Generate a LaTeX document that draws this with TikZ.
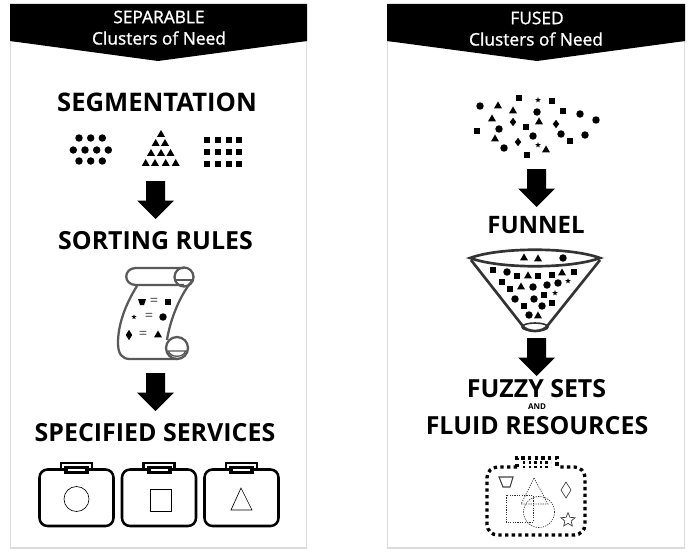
\documentclass[tikz,border=0pt]{standalone}
\usepackage{fontspec}
\setmainfont{Open Sans}
\newfontfamily\bannerfont[FakeBold=1.2]{Open Sans}
\usetikzlibrary{shapes.geometric}
\tikzset{mydot/.style={fill,circle,minimum size=5.6pt,inner sep=0pt},
mytri/.style={fill,regular polygon,regular polygon sides=3,minimum size=6.8pt,inner sep=0pt},
mysquare/.style={fill,rectangle,minimum size=5pt,inner sep=0pt},
mydiamond/.style={fill,diamond,minimum width=5pt,minimum height=6.5pt,inner sep=0pt},
mystar/.style={fill,star,star points=5,star point ratio=2.4,minimum size=4.4pt,inner sep=0pt},
myheading/.style={font=\bfseries\fontsize{18.7}{18.7}\selectfont,inner sep=0pt},
mybanner/.style={text=white,font=\bannerfont\fontsize{13}{13}\selectfont,inner sep=0pt},
mypanel/.style={draw=black!14,line width=0.8pt},
myarrow/.style={fill=black},
myscroll/.style={draw=black!65,line width=1.7pt},
myfunnel/.style={draw=black!80,line width=2pt},
myequal/.style={text=black!70,font=\fontsize{11}{11}\selectfont,inner sep=0pt},
mycase/.style={draw=black,line width=1.9pt},
mydotted/.style={draw=black,line width=2.5pt,dash pattern=on 2.5pt off 2.5pt},
myfine/.style={draw=black!80,line width=0.5pt,dash pattern=on 0.9pt off 0.9pt}}
\begin{document}
\begin{tikzpicture}[x=0.75pt,y=-0.75pt]
\useasboundingbox (0,0) rectangle (698,556);
\draw[mypanel] (10.5,41) rectangle (306.5,548);
\draw[mypanel] (387.5,41) rectangle (684.5,548);
\fill (10,4) -- (307,4) -- (307,41) -- (158,61) -- (10,41) -- cycle;
\fill (387,4) -- (685,4) -- (685,41) -- (537,61) -- (387,41) -- cycle;
\node[mybanner] (sephead) at (159,17) {SEPARABLE};
\node[mybanner] (sepsub) at (159,38) {Clusters of Need};
\node[mybanner] (fushead) at (537,18) {FUSED};
\node[mybanner] (fussub) at (536,39) {Clusters of Need};
\node[myheading,font=\bfseries\fontsize{19.2}{19.2}\selectfont] (segment) at (157,102) {SEGMENTATION};
\node[myheading] (sorting) at (155.5,241) {SORTING RULES};
\node[myheading] (services) at (155,433) {SPECIFIED SERVICES};
\node[myheading,font=\bfseries\fontsize{18}{18}\selectfont] (funnel) at (536,225) {FUNNEL};
\node[myheading] (fuzzy) at (536.5,389) {FUZZY SETS};
\node[font=\bfseries\fontsize{6}{6}\selectfont,inner sep=0pt] (and) at (537,407) {AND};
\node[myheading] (fluid) at (537,426) {FLUID RESOURCES};
\foreach \y in {181,373}{
\fill[myarrow] (146,\y) -- (165,\y) -- (165,\y+19.5) -- (174,\y+19.5) -- (155.5,\y+38) -- (137,\y+19.5) -- (146,\y+19.5) -- cycle;
}
\foreach \y in {169,338}{
\fill[myarrow] (527,\y) -- (546,\y) -- (546,\y+19.5) -- (555,\y+19.5) -- (536.5,\y+38) -- (518,\y+19.5) -- (527,\y+19.5) -- cycle;
}
\foreach \x/\y [count=\n] in {79/138,90.7/138,102.3/138,73.3/150,85/150,96.7/150,108.3/150,79/161,90.7/161,102.3/161}
\node[mydot] (sepdot\n) at (\x,\y) {};
\foreach \x/\y [count=\n] in {161/134.5,155.7/143.5,165/143.5,151/153.5,161/153.5,170.5/153.5,145.7/163.5,155/163.5,165.7/163.5,175.7/163.5}
\node[mytri] (septri\n) at (\x,\y) {};
\foreach \x in {207,218,229,239}
\foreach \y in {140,152,164}
\node[mysquare] (sepbox\x\y) at (\x,\y) {};
\draw[myscroll] (184,268) -- (136,268) .. controls (123,268) and (123,285) .. (136,285) -- (184,285);
\draw[myscroll] (184,277) circle (9.5);
\draw[myscroll,line width=1pt] (175,280) -- (193,280);
\draw[myscroll] (137,286) .. controls (125,305) and (118,325) .. (118,343) .. controls (118,354) and (122,359) .. (130,359) -- (177,359);
\draw[myscroll] (192,281) .. controls (180,295) and (170,320) .. (167,340);
\draw[myscroll] (177,348) circle (11);
\draw[myscroll,line width=1pt] (168.5,351) .. controls (170,358) and (184,358) .. (185.5,351) -- cycle;
\fill (138,299) -- (146,299) -- (144,305) -- (140,305) -- cycle;
\node[myequal] (eqa) at (154,301.5) {=};
\node[mysquare] (scrbox) at (168,302) {};
\node[mystar,minimum size=4pt] (scrstar) at (134,317) {};
\node[myequal] (eqb) at (149,316.5) {=};
\node[mydot] (scrdot) at (163,317) {};
\node[mydiamond,minimum height=8pt] (scrdia) at (129,335) {};
\node[myequal] (eqc) at (143,334.5) {=};
\node[mytri] (scrtri) at (158,335) {};
\foreach \s in {0,82.5,165}{
\begin{scope}[shift={(\s,0)}]
\draw[mycase,rounded corners=6pt] (39.5,469.5) rectangle (113.5,526);
\draw[mycase] (61,469) -- (61,463) -- (92,463) -- (92,469);
\fill (64,466) rectangle (89,474);
\fill[white] (68,469) rectangle (85,471);
\end{scope}
}
\draw[line width=0.5pt] (76.5,499) circle (12.5);
\draw[line width=0.5pt] (150,489) rectangle (171,511);
\draw[line width=0.5pt] (241,488) -- (252,510) -- (231,510) -- cycle;
\foreach \x/\y [count=\n] in {480/106,537/112,580/114,596/120,499/129,533/136,561/134,585/135,504/148}
\node[mydot] (fusdot\n) at (\x,\y) {};
\foreach \x/\y [count=\n] in {498/106,513/111,492/119,539/122,495/139,546/150}
\node[mytri] (fustri\n) at (\x,\y) {};
\foreach \x/\y [count=\n] in {519/98,552/101,563/111,477/131,526/127,570/141,527/155}
\node[mysquare] (fusbox\n) at (\x,\y) {};
\foreach \x/\y [count=\n] in {513/122,556/124,518/142}
\node[mydiamond] (fusdia\n) at (\x,\y) {};
\foreach \x/\y [count=\n] in {538/100,538/145}
\node[mystar] (fusstar\n) at (\x,\y) {};
\draw[myfunnel] (470,258) .. controls (500,247) and (570,247) .. (600,258) .. controls (570,269) and (500,269) .. (470,258) -- cycle;
\draw[myfunnel] (471,260) -- (522,325) .. controls (526,333) and (544,333) .. (548,325) -- (600,260);
\draw[myfunnel,line width=1.2pt] (535,327) ellipse (13 and 4);
\foreach \x/\y [count=\n] in {524/258,538/259,528/276,562/273,521/287,538/316}
\node[mytri] (funtri\n) at (\x,\y) {};
\foreach \x/\y [count=\n] in {563/258,507/272,533/287,547/285,558/283,515/299,534/299,542/306,529/315}
\node[mydot] (fundot\n) at (\x,\y) {};
\foreach \x/\y [count=\n] in {493/270,517/276,538/276,552/275,574/272,502/282,510/289,544/295,524/306,552/303}
\node[mysquare] (funbox\n) at (\x,\y) {};
\foreach \x/\y [count=\n] in {568/281,555/293}
\node[mystar] (funstar\n) at (\x,\y) {};
\draw[mydotted,rounded corners=8pt] (517,467) -- (487,467) -- (487,535) -- (585,535) -- (585,467) -- (557,467);
\draw[mydotted] (517,467) -- (517,458) -- (557,458) -- (557,467);
\draw[mydotted,line width=1.8pt,dash pattern=on 1.8pt off 2.4pt] (523,462.5) -- (551,462.5);
\draw[mydotted,line width=1.8pt,dash pattern=on 1.8pt off 2.4pt] (523,467) -- (551,467);
\draw[draw=black!75,line width=0.8pt] (499,477) -- (513,477) -- (510,487) -- (503,487) -- cycle;
\draw[myfine] (534,478) -- (548,504) -- (521,504) -- cycle;
\draw[myfine] (506,495) rectangle (533,522);
\draw[myfine] (539,512) circle (15.5);
\draw[draw=black!75,line width=0.5pt] (566,482) -- (571,490) -- (566,498) -- (561,490) -- cycle;
\node[star,star points=5,star point ratio=2.2,draw=black!80,line width=0.5pt,minimum size=11pt,inner sep=0pt] (fusoutline) at (568,520) {};
\end{tikzpicture}
\end{document}
